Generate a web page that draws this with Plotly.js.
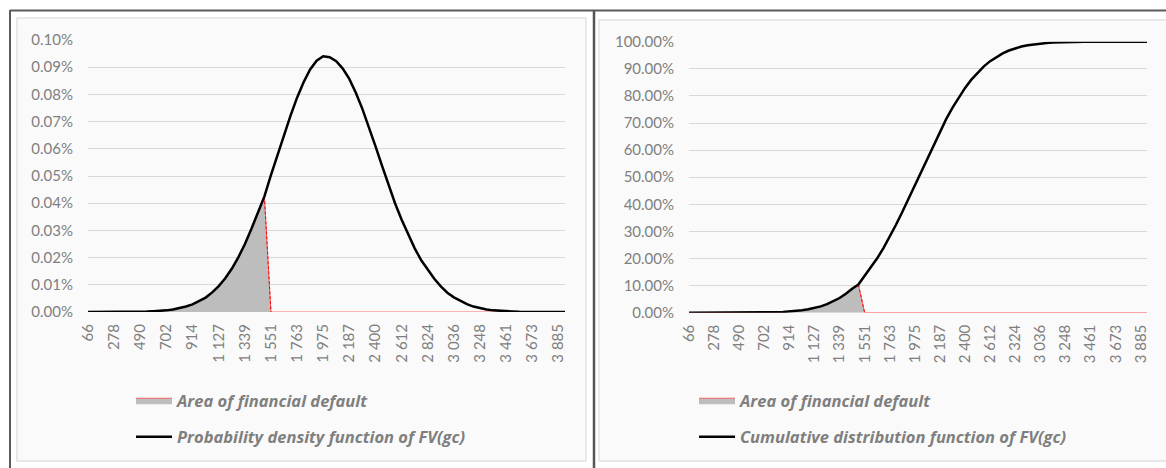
<!DOCTYPE html>
<html>
<head>
<meta charset="utf-8">
<script src="https://cdn.plot.ly/plotly-3.0.1.min.js"></script>
<style>
  html, body { margin: 0; padding: 0; background: #ffffff; }
  #chart { width: 1166px; height: 468px; }
</style>
</head>
<body>
<div id="chart"></div>
<script>
// Categories (FV(gc) values on the horizontal axis)
const fvValues = [66,119,172,225,278,331,384,437,490,543,
  596,649,702,755,808,861,914,967,1021,1074,
  1127,1180,1233,1286,1339,1392,1445,1498,1551,1604,
  1657,1710,1763,1816,1869,1922,1975,2028,2081,2134,
  2187,2240,2294,2347,2400,2453,2506,2559,2612,2665,
  2718,2771,2824,2877,2930,2983,3036,3089,3142,3195,
  3248,3301,3354,3408,3461,3514,3567,3620,3673,3726,
  3779,3832,3885,3938];

// Probability density function of FV(gc), in percent
const pdfPercent = [0.0000,0.0000,0.0000,0.0000,0.0000,0.0000,0.0000,0.0001,0.0001,0.0002,
  0.0003,0.0004,0.0006,0.0009,0.0014,0.0020,0.0028,0.0039,0.0053,0.0072,
  0.0095,0.0124,0.0159,0.0201,0.0249,0.0305,0.0366,0.0425,0.0503,0.0578,
  0.0651,0.0722,0.0788,0.0845,0.0892,0.0924,0.0940,0.0937,0.0922,0.0895,
  0.0857,0.0806,0.0746,0.0680,0.0609,0.0537,0.0466,0.0399,0.0339,0.0284,
  0.0234,0.0190,0.0155,0.0122,0.0094,0.0071,0.0054,0.0040,0.0029,0.0020,
  0.0014,0.0009,0.0006,0.0004,0.0003,0.0002,0.0001,0.0001,0.0000,0.0000,
  0.0000,0.0000,0.0000,0.0000];

// Cumulative distribution function of FV(gc), in percent
const cdfPercent = [0.00,0.00,0.00,0.00,0.00,0.00,0.00,0.01,0.01,0.02,
  0.03,0.05,0.08,0.13,0.20,0.29,0.43,0.62,0.89,1.24,
  1.72,2.34,3.14,4.16,5.42,6.98,8.87,10.40,13.70,16.70,
  20.08,23.86,27.99,32.45,37.15,42.07,47.13,52.19,57.26,62.21,
  66.97,71.43,75.68,79.50,82.94,85.99,88.63,90.91,92.82,94.41,
  95.71,96.75,97.58,98.22,98.71,99.08,99.35,99.55,99.69,99.79,
  99.86,99.91,99.94,99.96,99.98,99.99,99.99,100.00,100.00,100.00,
  100.00,100.00,100.00,100.00];

// Last category inside the area of financial default
const defaultCutoff = 1498;

// Tick labels
const tickValues = [66,278,490,702,914,1127,1339,1551,1763,1975,2187,2400,2612,2824,3036,3248,3461,3673,3885];
const tickTextPdf = ['66','278','490','702','914','1 127','1 339','1 551','1 763','1 975','2 187','2 400','2 612','2 824','3 036','3 248','3 461','3 673','3 885'];
const tickTextCdf = ['66','278','490','702','914','1 127','1 339','1 551','1 763','1 975','2 187','2 400','2 612','2 324','3 036','3 248','3 461','3 673','3 885'];

const areaName = 'Area of financial default';
const pdfName = 'Probability density function of FV(gc)';
const cdfName = 'Cumulative distribution function of FV(gc)';

const areaPdf = pdfPercent.map((v, i) => fvValues[i] <= defaultCutoff ? v : 0);
const areaCdf = cdfPercent.map((v, i) => fvValues[i] <= defaultCutoff ? v : 0);
const cutIdx = fvValues.indexOf(defaultCutoff);
const cutX = [fvValues[cutIdx], fvValues[cutIdx + 1]];

const W = 1166, H = 468;
const px = v => v / W;
const py = v => 1 - v / H;

const FONT = 'Lato, "Open Sans", "DejaVu Sans", sans-serif';
const LEGFONT = '"Open Sans", Lato, "DejaVu Sans", sans-serif';
const GRAY = '#7f7f7f';

const areaStyle = {
  mode: 'lines', fill: 'tozeroy', fillcolor: '#bdbdbd',
  line: { color: 'rgba(255,60,60,0.75)', width: 1 }
};
const cutStyle = {
  mode: 'lines', showlegend: false,
  line: { color: '#ff0000', width: 1, dash: '3px,2px' }
};
const curveStyle = { mode: 'lines', line: { color: '#000000', width: 2.5 } };

const data = [
  Object.assign({ x: fvValues, y: areaPdf, name: '<b><i>' + areaName + '</i></b>',
    xaxis: 'x', yaxis: 'y', legend: 'legend', legendgroup: 'a1' }, areaStyle),
  Object.assign({ x: cutX, y: [pdfPercent[cutIdx], areaPdf[cutIdx + 1]],
    xaxis: 'x', yaxis: 'y', legend: 'legend', legendgroup: 'a1' }, cutStyle),
  Object.assign({ x: fvValues, y: pdfPercent, name: '<b><i>' + pdfName + '</i></b>',
    xaxis: 'x', yaxis: 'y', legend: 'legend', legendgroup: 'b1' }, curveStyle),
  Object.assign({ x: fvValues, y: areaCdf, name: '<b><i>' + areaName + '</i></b>',
    xaxis: 'x2', yaxis: 'y2', legend: 'legend2', legendgroup: 'a2' }, areaStyle),
  Object.assign({ x: cutX, y: [cdfPercent[cutIdx], areaCdf[cutIdx + 1]],
    xaxis: 'x2', yaxis: 'y2', legend: 'legend2', legendgroup: 'a2' }, cutStyle),
  Object.assign({ x: fvValues, y: cdfPercent, name: '<b><i>' + cdfName + '</i></b>',
    xaxis: 'x2', yaxis: 'y2', legend: 'legend2', legendgroup: 'b2' }, curveStyle)
];

const xCommon = {
  range: [fvValues[0], fvValues[fvValues.length - 1]],
  tickmode: 'array', tickvals: tickValues, tickangle: -90,
  showgrid: false, zeroline: false, showline: false, ticks: '',
  ticklabelstandoff: 8,
  tickfont: { family: FONT, size: 15, color: GRAY }
};
const yCommon = {
  tickformat: '.2f', ticksuffix: '%',
  showgrid: true, gridcolor: '#d9d9d9', gridwidth: 1,
  zeroline: false, showline: false, ticks: '',
  ticklabelstandoff: 14,
  tickfont: { family: FONT, size: 15, color: GRAY }
};
const legendCommon = {
  xanchor: 'left', yanchor: 'top', orientation: 'v',
  bgcolor: 'rgba(0,0,0,0)', borderwidth: 0,
  font: { family: LEGFONT, size: 16.5, color: GRAY },
  tracegroupgap: 12, itemwidth: 36
};

const layout = {
  width: W, height: H, autosize: false,
  margin: { l: 0, r: 0, t: 0, b: 0 },
  paper_bgcolor: '#ffffff', plot_bgcolor: 'rgba(0,0,0,0)',
  font: { family: FONT, color: GRAY },
  showlegend: true,
  xaxis: Object.assign({}, xCommon, { domain: [px(88), px(565)], ticktext: tickTextPdf, anchor: 'y' }),
  yaxis: Object.assign({}, yCommon, { domain: [py(312), py(40)], range: [0, 0.1], dtick: 0.01, anchor: 'x' }),
  xaxis2: Object.assign({}, xCommon, { domain: [px(689), px(1147)], ticktext: tickTextCdf, anchor: 'y2' }),
  yaxis2: Object.assign({}, yCommon, { domain: [py(312.7), py(41.7)], range: [0, 100], dtick: 10, anchor: 'x2' }),
  legend: Object.assign({}, legendCommon, { x: px(131), y: py(383) }),
  legend2: Object.assign({}, legendCommon, { x: px(694), y: py(383) }),
  shapes: [
    { type: 'rect', xref: 'paper', yref: 'paper', layer: 'below',
      x0: px(17), x1: px(586), y0: py(461), y1: py(18),
      fillcolor: '#fafafa', line: { color: '#e2e2e2', width: 1.5 } },
    { type: 'rect', xref: 'paper', yref: 'paper', layer: 'below',
      x0: px(599), x1: px(1172), y0: py(461), y1: py(20),
      fillcolor: '#fafafa', line: { color: '#e2e2e2', width: 1.5 } },
    { type: 'line', xref: 'paper', yref: 'paper', layer: 'above',
      x0: px(10), x1: px(1170), y0: py(10.5), y1: py(10.5),
      line: { color: '#5a5a5a', width: 2 } },
    { type: 'line', xref: 'paper', yref: 'paper', layer: 'above',
      x0: px(10), x1: px(10), y0: py(470), y1: py(10),
      line: { color: '#5a5a5a', width: 2 } },
    { type: 'line', xref: 'paper', yref: 'paper', layer: 'above',
      x0: px(594), x1: px(594), y0: py(470), y1: py(10),
      line: { color: '#555555', width: 2.5 } }
  ]
};

Plotly.newPlot('chart', data, layout, { staticPlot: true, displayModeBar: false });
</script>
</body>
</html>
